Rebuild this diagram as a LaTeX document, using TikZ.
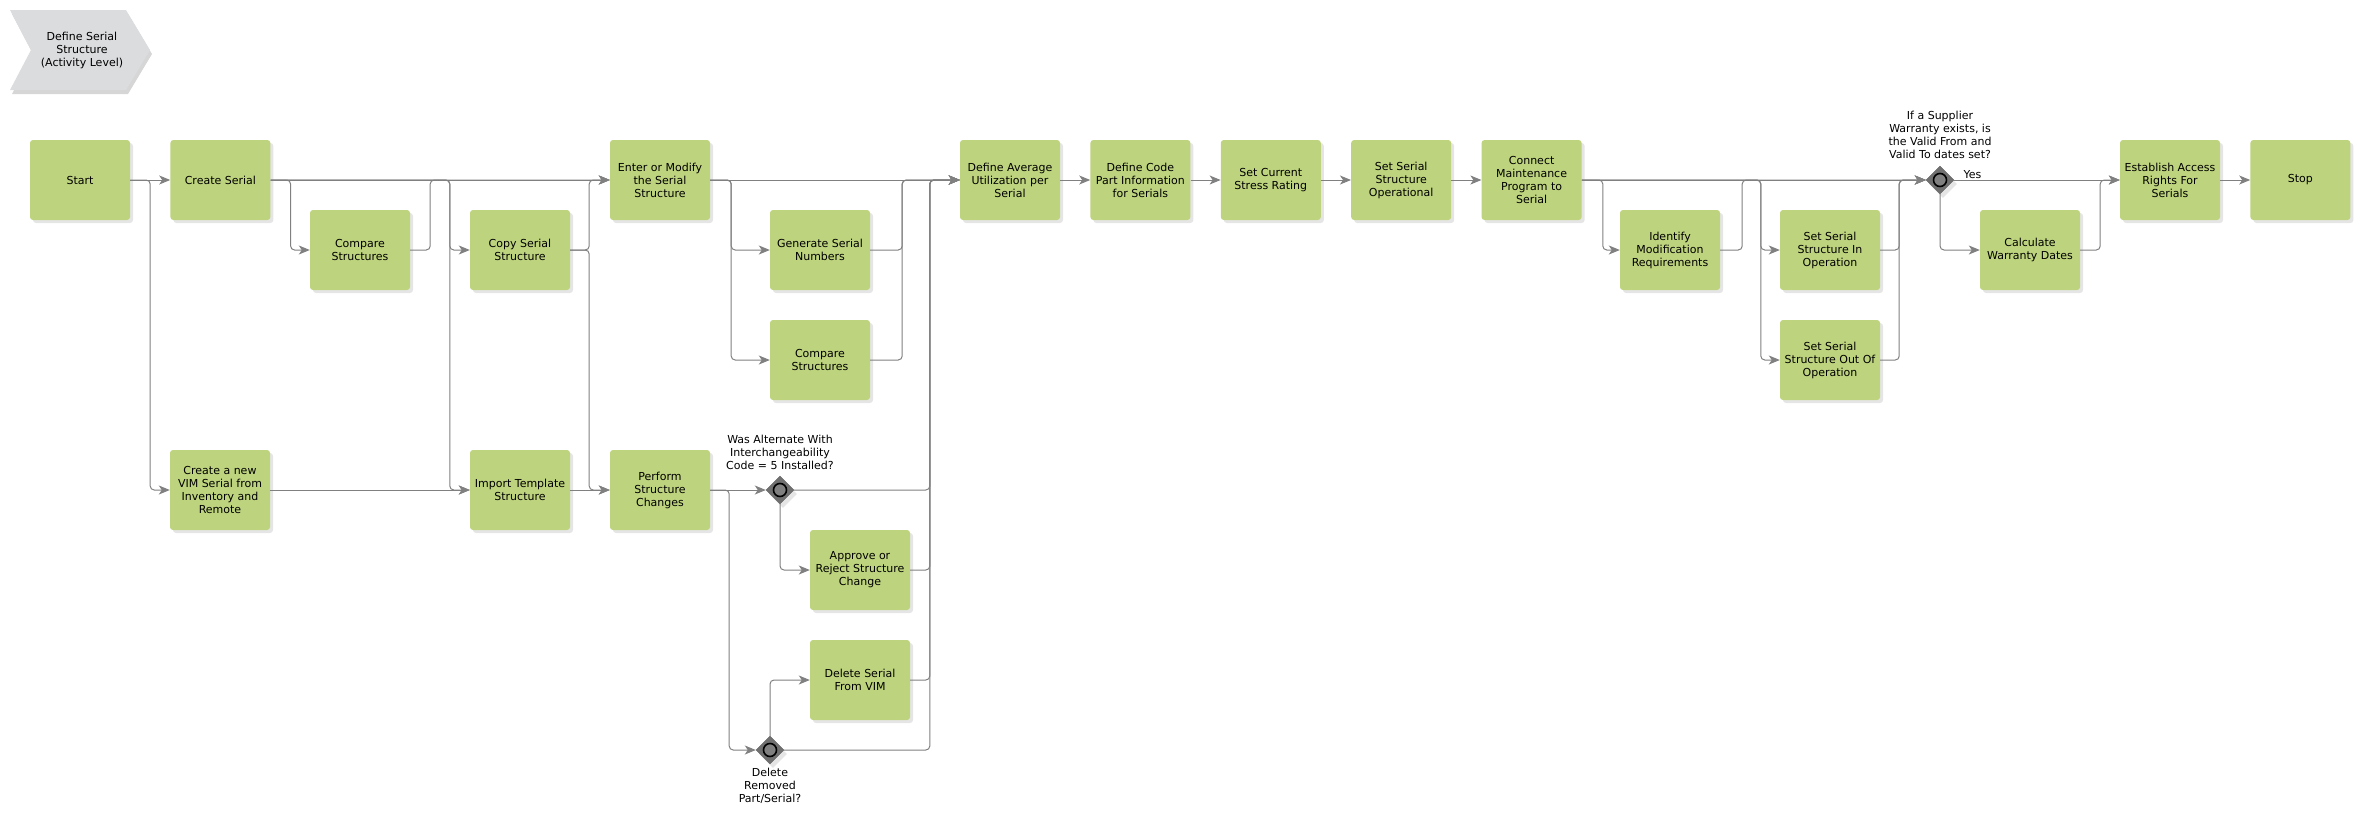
\documentclass[tikz,border=0pt]{standalone}
\usepackage{fontspec}
\setmainfont{DejaVu Sans}
\usetikzlibrary{arrows.meta,positioning,shapes.geometric,shadows}
\definecolor{taskgreen}{RGB}{189,211,125}
\definecolor{flowgray}{RGB}{128,128,128}
\definecolor{gwgray}{RGB}{112,112,112}
\definecolor{evgray}{RGB}{219,220,222}

\begin{document}
\begin{tikzpicture}[x=1pt, y=-1pt,
    task/.style={fill=taskgreen, rounded corners=3pt,
                 minimum width=100pt, minimum height=80pt, inner sep=1pt,
                 font=\fontsize{11}{13}\selectfont, align=center,
                 drop shadow={shadow xshift=3pt, shadow yshift=-3pt, fill=black!20}},
    gw/.style={diamond, fill=gwgray, draw=gwgray!85!black, minimum size=28pt, inner sep=0pt,
               drop shadow={shadow xshift=3pt, shadow yshift=-4pt, fill=black!20},
               path picture={\draw[draw=black, line width=1.6pt, fill=flowgray]
                 (path picture bounding box.center) circle (6.5pt);}},
    note/.style={font=\fontsize{11}{13}\selectfont, align=center, inner sep=1pt},
    flow/.style={-{Stealth[length=11pt,width=9pt,inset=3pt]}, draw=flowgray,
                 line width=1pt, rounded corners=4pt}
  ]
  \useasboundingbox (0,0) rectangle (2363,812);

  % activity chevron
  \fill[black!16, xshift=2pt, yshift=-4pt] (10,10) -- (126,10) -- (150,50) -- (126,90) -- (10,90) -- (31,50) -- cycle;
  \fill[evgray] (10,10) -- (126,10) -- (150,50) -- (126,90) -- (10,90) -- (31,50) -- cycle;
  \node[note] (title) at (82,50) {Define Serial\\ Structure\\ (Activity Level)};

  % tasks
  \node[task] (start) at (80,180) {Start};
  \node[task, right=40pt of start] (create) {Create Serial};
  \node[task] (compA) at (360,250) {Compare\\ Structures};
  \node[task] (copy) at (520,250) {Copy Serial\\ Structure};
  \node[task] (newvim) at (220,490) {Create a new\\ VIM Serial from\\ Inventory and\\ Remote};
  \node[task] (import) at (520,490) {Import Template\\ Structure};
  \node[task] (enter) at (660,180) {Enter or Modify\\ the Serial\\ Structure};
  \node[task] (perform) at (660,490) {Perform\\ Structure\\ Changes};
  \node[task] (gen) at (820,250) {Generate Serial\\ Numbers};
  \node[task] (compB) at (820,360) {Compare\\ Structures};
  \node[task] (approve) at (860,570) {Approve or\\ Reject Structure\\ Change};
  \node[task] (delete) at (860,680) {Delete Serial\\ From VIM};
  \node[task] (defavg) at (1010,180) {Define Average\\ Utilization per\\ Serial};
  \node[task, right=30pt of defavg] (defcode) {Define Code\\ Part Information\\ for Serials};
  \node[task, right=30pt of defcode] (setcur) {Set Current\\ Stress Rating};
  \node[task, right=30pt of setcur] (setop) {Set Serial\\ Structure\\ Operational};
  \node[task, right=30pt of setop] (connect) {Connect\\ Maintenance\\ Program to\\ Serial};
  \node[task] (ident) at (1670,250) {Identify\\ Modification\\ Requirements};
  \node[task] (inop) at (1830,250) {Set Serial\\ Structure In\\ Operation};
  \node[task] (outop) at (1830,360) {Set Serial\\ Structure Out Of\\ Operation};
  \node[task] (calc) at (2030,250) {Calculate\\ Warranty Dates};
  \node[task] (access) at (2170,180) {Establish Access\\ Rights For\\ Serials};
  \node[task, right=30pt of access] (stop) {Stop};

  % gateways
  \node[gw] (gwalt) at (780,490) {};
  \node[gw] (gwdel) at (770,750) {};
  \node[gw] (gwwar) at (1940,180) {};
  \node[note, above=5pt of gwalt] (qalt) {Was Alternate With\\ Interchangeability\\ Code = 5 Installed?};
  \node[note, below=3pt of gwdel] (qdel) {Delete\\ Removed\\ Part/Serial?};
  \node[note, above=6pt of gwwar] (qwar) {If a Supplier\\ Warranty exists, is\\ the Valid From and\\ Valid To dates set?};

  % flows
  \draw[flow] (start) -- (create);
  \draw[flow] (start.east) -- ++(20,0) |- (newvim);
  \draw[flow] (create) -- (enter);
  \draw[flow] (create.east) -- ++(20,0) |- (compA);
  \draw[flow] (compA.east) -- ++(20,0) |- (enter);
  \draw[flow] (create.east) -| ([xshift=-20pt]copy.west) -- (copy);
  \draw[flow] (create.east) -| ([xshift=-20pt]import.west) -- (import);
  \draw[flow] (newvim) -- (import);
  \draw[flow] (copy.east) -- ++(19,0) |- (enter);
  \draw[flow] (copy.east) -- ++(19,0) |- (perform);
  \draw[flow] (import) -- (perform);

  \draw[flow] (enter) -- (defavg);
  \draw[flow] (enter.east) -- ++(21,0) |- (gen);
  \draw[flow] (enter.east) -- ++(21,0) |- (compB);
  \draw[flow] (gen.east) -- ++(32,0) |- (defavg);
  \draw[flow] (compB.east) -- ++(32,0) |- (defavg);
  \draw[flow] (perform) -- (gwalt);
  \draw[flow] (perform.east) -- ++(19,0) |- (gwdel);
  \draw[flow] (gwalt.south) |- (approve);
  \draw[flow] (gwdel.north) |- (delete);
  \draw[flow] (gwalt.east) -| ([xshift=-30pt]defavg.west) -- (defavg);
  \draw[flow] (approve.east) -| ([xshift=-30pt]defavg.west) -- (defavg);
  \draw[flow] (delete.east) -| ([xshift=-30pt]defavg.west) -- (defavg);
  \draw[flow] (gwdel.east) -| ([xshift=-30pt]defavg.west) -- (defavg);

  \draw[flow] (defavg) -- (defcode);
  \draw[flow] (defcode) -- (setcur);
  \draw[flow] (setcur) -- (setop);
  \draw[flow] (setop) -- (connect);
  \draw[flow] (connect) -- (gwwar);
  \draw[flow] (connect.east) -- ++(21,0) |- (ident);
  \draw[flow] (ident.east) -- ++(22,0) |- (gwwar);
  \draw[flow] (connect.east) -| ([xshift=-19pt]inop.west) -- (inop);
  \draw[flow] (connect.east) -| ([xshift=-19pt]outop.west) -- (outop);
  \draw[flow] (inop.east) -- ++(19,0) |- (gwwar);
  \draw[flow] (outop.east) -- ++(19,0) |- (gwwar);
  \draw[flow] (gwwar) -- node[note, pos=0.11, above=0pt] {Yes} (access);
  \draw[flow] (gwwar.south) |- (calc);
  \draw[flow] (calc.east) -- ++(20,0) |- (access);
  \draw[flow] (access) -- (stop);
\end{tikzpicture}
\end{document}
